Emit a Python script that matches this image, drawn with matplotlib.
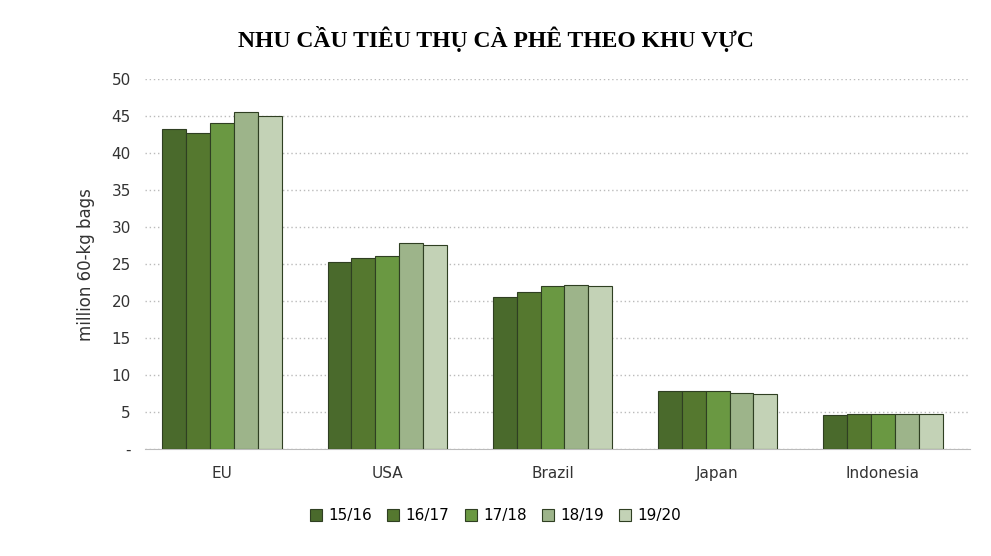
import matplotlib
matplotlib.use("Agg")
import matplotlib.pyplot as plt
import numpy as np

categories = ["EU", "USA", "Brazil", "Japan", "Indonesia"]
seasons = ["15/16", "16/17", "17/18", "18/19", "19/20"]
v1516 = [43.3, 25.3, 20.5, 7.8, 4.6]
v1617 = [42.7, 25.8, 21.2, 7.9, 4.7]
v1718 = [44.1, 26.1, 22.0, 7.8, 4.8]
v1819 = [45.6, 27.8, 22.2, 7.6, 4.8]
v1920 = [45.0, 27.6, 22.0, 7.5, 4.8]
series = [v1516, v1617, v1718, v1819, v1920]
colors = ["#4a6a2c", "#55782f", "#6a9842", "#9db48a", "#c3d2b6"]
yticks = [0, 5, 10, 15, 20, 25, 30, 35, 40, 45, 50]
ytick_labels = ["-"] + [str(t) for t in yticks[1:]]

fig = plt.figure(figsize=(9.91, 5.56), dpi=100)
ax = fig.add_axes([0.146, 0.192, 0.833, 0.666])
x = np.arange(len(categories))
w = 0.145
for i, (s, c) in enumerate(zip(series, colors)):
    ax.bar(x + (i - 2) * w, s, w, color=c, edgecolor="#2f3f22", linewidth=0.8, label=seasons[i], zorder=3)
ax.set_xlim(-0.47, 4.53)
ax.set_ylim(0, 50)
ax.set_yticks(yticks)
ax.set_yticklabels(ytick_labels)
ax.set_xticks(x)
ax.set_xticklabels(categories)
ax.yaxis.grid(True, linestyle=(0, (1, 2)), color="#bbbbbb", linewidth=1, zorder=0)
for sp in ["top", "right", "left"]:
    ax.spines[sp].set_visible(False)
ax.spines["bottom"].set_color("#bbbbbb")
ax.tick_params(axis="both", length=0, labelsize=11, colors="#333333", pad=10)
ax.tick_params(axis="x", pad=12)
ax.set_ylabel("million 60-kg bags", fontsize=12, color="#333333", labelpad=12)
fig.text(0.5, 0.93, "NHU CẦU TIÊU THỤ CÀ PHÊ THEO KHU VỰC", ha="center", va="center",
         fontsize=17, fontweight="bold", family="Liberation Serif")
fig.legend(loc="center", bbox_to_anchor=(0.5, 0.072), ncol=5, frameon=False, fontsize=11,
           handlelength=0.8, handleheight=0.8, columnspacing=1.0, handletextpad=0.4)
fig.savefig("out.png", dpi=100)
